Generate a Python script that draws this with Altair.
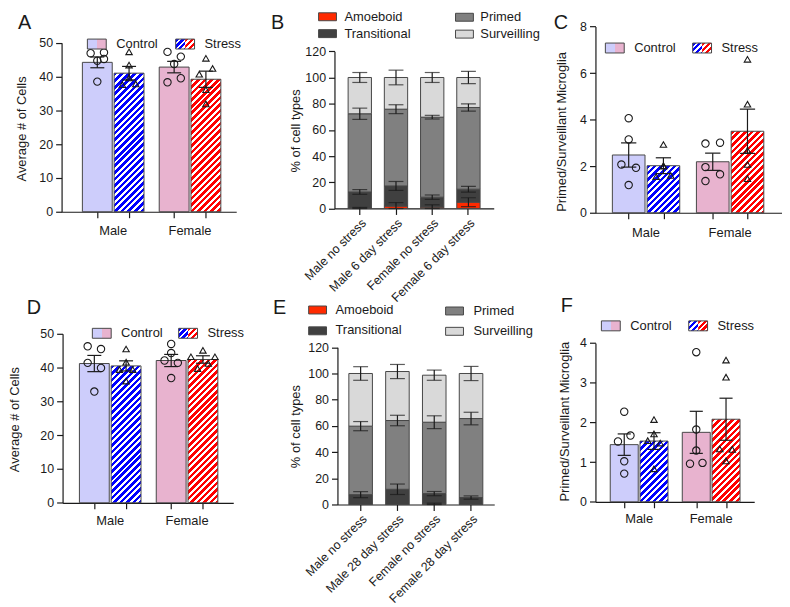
import altair as alt
import pandas as pd

# ================= data =================
SEXES = ["Male", "Female"]
CONDS = ["Control", "Stress"]
# bar order: Male Control, Male Stress, Female Control, Female Stress

A_MEAN = [44.2, 41.0, 42.8, 39.2]
A_SEM = [1.6, 2.0, 1.7, 2.4]
A_PTS = [[46.9, 47.1, 44.7, 45.2, 38.5],
         [47.3, 43.4, 39.6, 37.6, 37.8],
         [47.3, 45.9, 43.7, 38.3, 39.5],
         [45.4, 42.4, 40.7, 36.1, 31.9]]
A_JIT = [[-1, 1, 0, 1, 0], [0, 0, 0, -1, 1], [-1, 1, 0, -1, 1], [0, 1, -1, 0, 0]]

C_MEAN = [2.48, 2.02, 2.19, 3.50]
C_SEM = [0.52, 0.34, 0.37, 0.95]
C_PTS = [[4.06, 3.15, 2.07, 1.93, 1.19],
         [2.93, 2.02, 1.55, 1.60, 2.00],
         [2.97, 3.01, 1.96, 1.65, 1.36],
         [6.59, 4.66, 2.68, 2.07, 1.46]]
C_JIT = [[0, 0, -1, 1, 0], [0, 0, -1, 1, 0], [-1, 1, -1, 1, -1], [0, 0, 0, 0, 0]]

D_MEAN = [41.2, 40.5, 42.1, 42.4]
D_SEM = [2.4, 1.5, 1.8, 1.1]
D_PTS = [[46.3, 45.5, 41.4, 39.9, 32.9],
         [45.5, 41.6, 39.4, 39.4, 36.0],
         [47.0, 44.3, 42.1, 41.4, 36.9],
         [45.1, 43.2, 43.2, 39.7, 41.2]]
D_JIT = [[-1, 1, -1, 1, 0], [0, 0, -1, 1, 0], [0, 0, -1, 1, 0], [0, -1.8, 1.8, -0.8, 0.8]]

F_MEAN = [1.44, 1.53, 1.75, 2.08]
F_SEM = [0.27, 0.21, 0.53, 0.53]
F_PTS = [[2.27, 1.52, 1.67, 1.02, 0.71],
         [2.07, 1.71, 1.54, 1.48, 0.83],
         [3.77, 1.82, 1.29, 0.96, 0.98],
         [3.57, 3.14, 1.33, 1.32, 1.03]]
F_JIT = [[0, -1, 1, 0, 0], [0, 0, -1, 1, 0], [0, 0, 0, -1, 1], [0, 0, -1, 1, 0]]

TYPES = ["Amoeboid", "Transitional", "Primed", "Surveilling"]
B_CATS = ["Male no stress", "Male 6 day stress", "Female no stress", "Female 6 day stress"]
B_AMO = [0.2, 1.8, 1.0, 4.8]
B_TRA = [12.4, 15.4, 7.6, 9.9]
B_PRI = [59.7, 58.6, 61.1, 62.4]
B_SUR = [27.7, 24.2, 30.3, 22.9]
B_AMO_SEM = [0.6, 2.7, 1.8, 3.4]
B_TRA_SEM = [1.8, 3.4, 1.7, 2.2]
B_PRI_SEM = [4.3, 3.4, 1.4, 2.8]
B_SUR_SEM = [3.8, 5.6, 3.8, 4.7]

E_CATS = ["Male no stress", "Male 28 day stress", "Female no stress", "Female 28 day stress"]
E_AMO = [0.0, 0.0, 0.4, 0.0]
E_TRA = [7.5, 11.6, 7.9, 5.3]
E_PRI = [52.3, 52.5, 54.5, 60.3]
E_SUR = [40.2, 37.4, 35.9, 34.4]
E_AMO_SEM = [0.0, 0.0, 0.6, 0.0]
E_TRA_SEM = [2.3, 4.0, 1.6, 1.25]
E_PRI_SEM = [3.5, 4.0, 4.9, 4.8]
E_SUR_SEM = [5.2, 5.4, 3.9, 5.4]

# ================= style / layout =================
FONT = "Liberation Sans"
LFONT = "Liberation Sans"
INK = "#1a1a1a"
EDGE = "#474747"
LAV, PINK, BLUE, RED = "#cdcdfb", "#e8b3cf", "#0000ff", "#ff0000"
SEG_COLORS = ["#ff2a00", "#404040", "#808080", "#d9d9d9"]
POS = [1.0, 2.0, 3.42, 4.42]
HALF, CAP, JIT = 0.47, 0.22, 0.21
TICK_FS, TITLE_FS, ROT_FS = 12.5, 13, 12.5

LAY = {
    "A": dict(W=275, H=188, xr=[0, 176], xdom=[-0.125, 5.375], yr=[187, 16.7], ymax=50, ystep=10,
              xoff=-1, yoff=0, tx=-40, ty=103, sexy=206, sw=(26, 115), swy=13, letter=(-44, 2.5)),
    "C": dict(W=188, H=188, xr=[0, 188], xdom=[0.043, 5.414], yr=[188, 0.3], ymax=8, ystep=2,
              xoff=0, yoff=0, tx=-34.5, ty=106, sexy=208, sw=(10, 98), swy=17, letter=(-42, 2.5)),
    "D": dict(W=275, H=172, xr=[1, 173], xdom=[0.0, 5.375], yr=[170.3, 0], ymax=50, ystep=10,
              xoff=-1.7, yoff=-1, tx=-48, ty=86, sexy=189, sw=(31, 118), swy=-5.5, letter=(-35, -20)),
    "F": dict(W=188, H=172, xr=[0, 160], xdom=[0.033, 5.367], yr=[169.3, 9.3], ymax=4, ystep=1,
              xoff=-2.7, yoff=0, tx=-31, ty=88, sexy=186.5, sw=(6, 94), swy=-13, letter=(-35, -22)),
    "B": dict(W=263, H=188, xr=[0, 160.5], pi=0.356, po=0.377, yr=[183.7, 25.3],
              xoff=-4.3, yoff=0, tx=-39, ty=105, letter=(-64, 2.5),
              leg=[(-16, -13.5, 10, -9), (-16, 3.5, 10, 7.5), (122, -13, 147, -9), (122, 4, 147, 8)]),
    "E": dict(W=263, H=172, xr=[3, 161], pi=0.36, po=0.31, yr=[172, 13.6],
              xoff=0, yoff=-3, tx=-42.5, ty=93, letter=(-62, -20),
              leg=[(-26, -28, 1, -24), (-26, -7, 1, -3.5), (112, -27, 140, -22.5), (112, -6.5, 140, -3)]),
}

ONE = pd.DataFrame({"k": [0]})


def stripes(color, w, h, period=6.6, frac=0.55):
    L = w + h
    k = w * L / (w * w + h * h)
    stops = []
    i = 0
    while i * period < L:
        a = i * period / L
        b = min((i * period + frac * period) / L, 1.0)
        c = min((i + 1) * period / L, 1.0)
        stops += [{"offset": round(a, 4), "color": color}, {"offset": round(b, 4), "color": color},
                  {"offset": round(b, 4), "color": "#ffffff"}, {"offset": round(c, 4), "color": "#ffffff"}]
        i += 1
    return {"gradient": "linear", "x1": 0, "y1": 0, "x2": k, "y2": k * h / w, "stops": stops}


def rect(x0, x1, y0, y1, **kw):
    return alt.Chart(ONE).mark_rect(**kw).encode(
        x=alt.value(x0), x2=alt.value(x1), y=alt.value(y0), y2=alt.value(y1))


def label(txt, x, y, size=13, font=FONT, baseline="middle"):
    return alt.Chart(ONE).mark_text(text=txt, align="left", baseline=baseline, fontSize=size,
                                    font=font, color=INK).encode(x=alt.value(x), y=alt.value(y))


def bar_panel(name, ytitle, mean, sem, pts, jit, anchor=False):
    P = LAY[name]
    xs = alt.Scale(domain=P["xdom"], range=P["xr"], nice=False, zero=False)
    ys = alt.Scale(domain=[0, P["ymax"]], range=P["yr"], nice=False)
    kx = (P["xr"][1] - P["xr"][0]) / (P["xdom"][1] - P["xdom"][0])
    ky = (P["yr"][0] - P["yr"][1]) / P["ymax"]
    sexes = [SEXES[0], SEXES[0], SEXES[1], SEXES[1]]
    conds = CONDS * 2
    df = pd.DataFrame({"sex": sexes, "cond": conds, "pos": POS, "mean": mean, "sem": sem})
    df["x0"] = df["pos"] - HALF
    df["x1"] = df["pos"] + HALF
    df["lo"] = df["mean"] - df["sem"]
    df["hi"] = df["mean"] + df["sem"]
    df["c0"] = df["pos"] - CAP
    df["c1"] = df["pos"] + CAP
    df["zero"] = 0.0

    yaxis = alt.Axis(values=list(range(0, P["ymax"] + 1, P["ystep"])), title=ytitle,
                     titleX=P["tx"], titleY=P["ty"], titleBaseline="middle", titleAngle=270,
                     titleFontSize=TITLE_FS, labelFontSize=TICK_FS,
                     offset=P["yoff"], tickSize=6, labelPadding=3)
    xaxis = alt.Axis(values=POS, labels=False, title=None, tickSize=6, offset=P["xoff"])

    def X(f):
        return alt.X(f, scale=xs, axis=xaxis)

    def Y(f):
        return alt.Y(f, scale=ys, axis=yaxis)

    layers = []
    layers.append(alt.Chart(df[df["cond"] == "Control"]).mark_rect(stroke=EDGE, strokeWidth=1).encode(
        x=X("x0:Q"), x2=alt.X2("x1"), y=Y("mean:Q"), y2=alt.Y2("zero"),
        fill=alt.Fill("sex:N", scale=alt.Scale(domain=SEXES, range=[LAV, PINK]), legend=None)))
    for s, col in zip(SEXES, [BLUE, RED]):
        sub = df[(df["cond"] == "Stress") & (df["sex"] == s)]
        g = stripes(col, 2 * HALF * kx, float(sub["mean"].iloc[0]) * ky)
        layers.append(alt.Chart(sub).mark_rect(fill=g, stroke=EDGE, strokeWidth=1).encode(
            x=X("x0:Q"), x2=alt.X2("x1"), y=Y("mean:Q"), y2=alt.Y2("zero")))
    # error bars
    layers.append(alt.Chart(df).mark_rule(color=INK, strokeWidth=1.2).encode(
        x=X("pos:Q"), y=Y("lo:Q"), y2=alt.Y2("hi")))
    for f in ["lo", "hi"]:
        layers.append(alt.Chart(df).mark_rule(color=INK, strokeWidth=1.2).encode(
            x=X("c0:Q"), x2=alt.X2("c1"), y=Y(f + ":Q")))
    # individual points
    prow = []
    for i in range(4):
        for v, j in zip(pts[i], jit[i]):
            prow.append({"cond": conds[i], "x0": POS[i] + j * JIT, "mean": v})
    pdf = pd.DataFrame(prow)
    layers.append(alt.Chart(pdf[pdf["cond"] == "Control"]).mark_point(
        shape="circle", filled=False, color=INK, size=55, strokeWidth=1.1, opacity=1).encode(
        x=X("x0:Q"), y=Y("mean:Q")))
    layers.append(alt.Chart(pdf[pdf["cond"] == "Stress"]).mark_point(
        shape="triangle-up", filled=False, color=INK, size=42, strokeWidth=1.1, opacity=1).encode(
        x=X("x0:Q"), y=Y("mean:Q")))
    # group labels
    gdf = pd.DataFrame({"sex": SEXES, "x0": [(POS[0] + POS[1]) / 2, (POS[2] + POS[3]) / 2]})
    layers.append(alt.Chart(gdf).mark_text(fontSize=13, font=FONT, baseline="middle", color=INK).encode(
        x=X("x0:Q"), y=alt.value(P["sexy"]), text="sex:N"))
    # legend
    s1, s2 = P["sw"]
    y0 = P["swy"]
    layers.append(rect(s1, s1 + 19, y0, y0 + 10, fill={
        "gradient": "linear", "x1": 0, "y1": 0, "x2": 1, "y2": 0,
        "stops": [{"offset": 0, "color": LAV}, {"offset": 0.5, "color": LAV},
                  {"offset": 0.5, "color": PINK}, {"offset": 1, "color": PINK}]}))
    layers.append(rect(s1, s1 + 19, y0, y0 + 10, fillOpacity=0, stroke=EDGE, strokeWidth=1))
    layers.append(rect(s2, s2 + 9.5, y0, y0 + 10, fill=stripes(BLUE, 9.5, 10, period=6.0)))
    layers.append(rect(s2 + 9.5, s2 + 19, y0, y0 + 10, fill=stripes(RED, 9.5, 10, period=6.0)))
    layers.append(rect(s2, s2 + 19, y0, y0 + 10, fillOpacity=0, stroke=EDGE, strokeWidth=1))
    layers.append(label("Control", s1 + 29, y0 + 5))
    layers.append(label("Stress", s2 + 29, y0 + 5))
    layers.append(label(name, P["letter"][0], P["letter"][1], size=20, font=LFONT, baseline="alphabetic"))
    if anchor:
        layers.append(rect(-54, -53, -16, -15, fill="#000000", opacity=0))
    return alt.layer(*layers).properties(width=P["W"], height=P["H"])


def stack_panel(name, cats, vals, sems):
    P = LAY[name]
    rows = []
    for i, c in enumerate(cats):
        cum = 0.0
        for t, vv, ss in zip(TYPES, vals, sems):
            v, s = vv[i], ss[i]
            rows.append({"cat": c, "type": t, "y0": cum, "y1": cum + v,
                         "lo": max(cum + v - s, 0.0), "hi": cum + v + s, "sem": s})
            cum += v
    df = pd.DataFrame(rows)
    xs = alt.Scale(domain=cats, range=P["xr"], paddingInner=P["pi"], paddingOuter=P["po"])
    ys = alt.Scale(domain=[0, 120], range=P["yr"], nice=False)
    yaxis = alt.Axis(values=list(range(0, 121, 20)), title="% of cell types",
                     titleX=P["tx"], titleY=P["ty"], titleBaseline="middle", titleAngle=270,
                     titleFontSize=TITLE_FS, labelFontSize=TICK_FS,
                     offset=P["yoff"], tickSize=6, labelPadding=3)
    xaxis = alt.Axis(title=None, labelAngle=-45, labelFontSize=ROT_FS, tickSize=6,
                     offset=P["xoff"], labelPadding=2)

    def X():
        return alt.X("cat:N", scale=xs, axis=xaxis)

    def Y(f):
        return alt.Y(f, scale=ys, axis=yaxis)

    layers = [alt.Chart(df).mark_bar(stroke=EDGE, strokeWidth=1).encode(
        x=X(), y=Y("y0:Q"), y2=alt.Y2("y1"),
        fill=alt.Fill("type:N", scale=alt.Scale(domain=TYPES, range=SEG_COLORS), legend=None))]
    err = df[df["sem"] > 0]
    layers.append(alt.Chart(err).mark_rule(color=INK, strokeWidth=1.2).encode(
        x=X(), y=Y("lo:Q"), y2=alt.Y2("hi")))
    for f in ["lo", "hi"]:
        layers.append(alt.Chart(err).mark_tick(color=INK, size=15, thickness=1.2).encode(
            x=X(), y=Y(f + ":Q")))
    for (t, col), (bx, by, tx, ty) in zip(zip(TYPES, SEG_COLORS), P["leg"]):
        layers.append(rect(bx, bx + 18, by, by + 8, fill=col, stroke=EDGE, strokeWidth=1))
        layers.append(label(t, tx, ty))
    layers.append(label(name, P["letter"][0], P["letter"][1], size=20, font=LFONT, baseline="alphabetic"))
    return alt.layer(*layers).properties(width=P["W"], height=P["H"])


pA = bar_panel("A", "Average # of Cells", A_MEAN, A_SEM, A_PTS, A_JIT, anchor=True)
pB = stack_panel("B", B_CATS, [B_AMO, B_TRA, B_PRI, B_SUR], [B_AMO_SEM, B_TRA_SEM, B_PRI_SEM, B_SUR_SEM])
pC = bar_panel("C", "Primed/Surveillant Microglia", C_MEAN, C_SEM, C_PTS, C_JIT)
pD = bar_panel("D", "Average # of Cells", D_MEAN, D_SEM, D_PTS, D_JIT)
pE = stack_panel("E", E_CATS, [E_AMO, E_TRA, E_PRI, E_SUR], [E_AMO_SEM, E_TRA_SEM, E_PRI_SEM, E_SUR_SEM])
pF = bar_panel("F", "Primed/Surveillant Microglia", F_MEAN, F_SEM, F_PTS, F_JIT)

chart = alt.concat(pA, pB, pC, pD, pE, pF, columns=3,
                   spacing={"row": 122, "column": 0}).properties(
    bounds="flush", align="each", padding=0
).resolve_scale(
    x="independent", y="independent", fill="independent"
).resolve_axis(
    x="independent", y="independent"
).configure_view(strokeWidth=0).configure_axis(
    grid=False, domainColor=INK, tickColor=INK, labelColor=INK, titleColor=INK,
    labelFont=FONT, titleFont=FONT, labelFontSize=TICK_FS, titleFontSize=TITLE_FS,
    titleFontWeight="normal", domainWidth=1.2, tickWidth=1.2
)

chart.save("out.html", embed_options={"renderer": "svg", "actions": False})
